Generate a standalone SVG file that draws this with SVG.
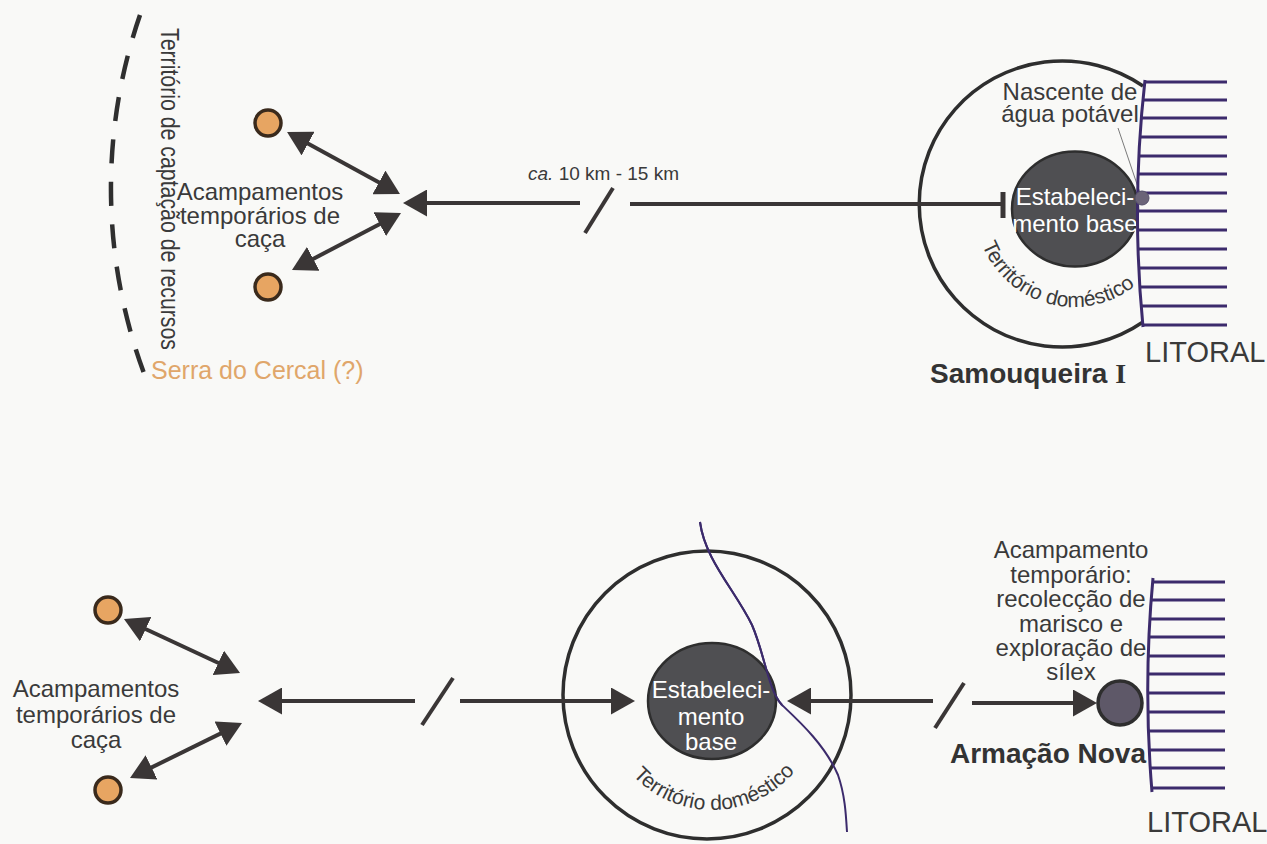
<svg xmlns="http://www.w3.org/2000/svg" width="1267" height="844" viewBox="0 0 1267 844">
<style>
.lbl{font-family:"Liberation Sans",Arial,sans-serif;font-size:24px;fill:#3a3a3a}
.c{text-anchor:middle}
.e{text-anchor:end}
.w{fill:#ffffff}
.b{font-weight:bold;font-size:28px;fill:#333333}
.arrow{stroke:#3a3636;stroke-width:4;fill:none}
.camp{fill:#e7a562;stroke:#3a2a1c;stroke-width:3.5}
.base{fill:#4f4f52;stroke:#2e2e2e;stroke-width:2.5}
.ring{fill:none;stroke:#2e2e2e;stroke-width:3.5}
.coast{fill:none;stroke:#3c2b6c;stroke-width:3}
</style>
<defs>
<marker id="ah" markerUnits="userSpaceOnUse" viewBox="0 0 24 27" markerWidth="24" markerHeight="27" refX="18" refY="13.5" orient="auto-start-reverse"><path d="M0,0 L24,13.5 L0,27 z" fill="#3a3636"/></marker>
<path id="arcTop" d="M982.2,245.1 A99,99 0 0 0 1167,241.9"/>
<path id="arcBot" d="M629.3,771.4 A108,108 0 0 0 813.5,738.9"/>
</defs>
<rect width="1267" height="844" fill="#f9f9f7"/>

<g id="catchment-boundary">
<path d="M140,15 A533,533 0 0 0 145,376" fill="none" stroke="#2f2f2f" stroke-width="4.5" stroke-dasharray="24 18.5"/>
<text class="lbl" style="font-size:25px" transform="translate(161,28) rotate(90)" textLength="322" lengthAdjust="spacingAndGlyphs">Território de captação de recursos</text>
<text x="151" y="379" class="lbl" style="font-size:25px;fill:#e0a66a">Serra do Cercal (?)</text>
</g>

<g id="camps-top">
<circle class="camp" cx="268" cy="123" r="13"/>
<circle class="camp" cx="268" cy="287" r="13"/>
<text class="lbl c" x="260" y="200">Acampamentos</text>
<text class="lbl c" x="260" y="223.5">temporários de</text>
<text class="lbl c" x="260" y="247">caça</text>
</g>

<g id="samouqueira">
<path class="ring" d="M1143,86 A143,143 0 1 0 1143,322"/>
<ellipse class="base" cx="1075" cy="209" rx="63" ry="57.5"/>
<text class="lbl c w" x="1075" y="205">Estabeleci-</text>
<text class="lbl c w" x="1075" y="232">mento base</text>
<text class="lbl" style="font-size:21px"><textPath href="#arcTop">Território doméstico</textPath></text>
<text class="lbl c" x="1070" y="100">Nascente de</text>
<text class="lbl c" x="1070" y="122">água potável</text>
<line x1="1118" y1="128" x2="1141" y2="196" stroke="#7a7a7a" stroke-width="1"/>
<text class="lbl b" x="930" y="383">Samouqueira <tspan font-family="'Liberation Serif',serif">I</tspan></text>
</g>

<g id="litoral-top">
<path class="coast" d="M1145,80 Q1131,204 1143,327"/>
<path class="coast" d="M1144,82H1227M1142,100H1227M1141,118H1227M1139,137H1227M1138,156H1227M1137,174H1227M1137,193H1227M1137,211H1227M1137,230H1227M1137,249H1227M1138,268H1227M1139,287H1227M1140,306H1227M1142,325H1227"/>
<circle cx="1142" cy="198" r="7" fill="#6b6478" stroke="#55506a" stroke-width="1"/>
<text class="lbl" x="1145" y="362" style="font-size:29px">LITORAL</text>
</g>

<g id="camps-bottom">
<circle class="camp" cx="108" cy="610" r="13"/>
<circle class="camp" cx="108" cy="790" r="13"/>
<text class="lbl c" x="96" y="697">Acampamentos</text>
<text class="lbl c" x="96" y="723">temporários de</text>
<text class="lbl c" x="96" y="748">caça</text>
</g>

<g id="armacao-base">
<circle class="ring" cx="707" cy="695" r="144"/>
<path d="M700,522 C705,560 735,590 752,625 C765,655 768,690 782,705 C800,722 825,745 838,775 C845,795 846,815 847,832" fill="none" stroke="#3c2b6c" stroke-width="2"/>
<ellipse class="base" cx="712" cy="701" rx="64" ry="58"/>
<path d="M700,522 C705,560 735,590 752,625 C765,655 768,690 782,705" fill="none" stroke="#3c2b6c" stroke-width="2"/>
<text class="lbl c w" x="711" y="698">Estabeleci-</text>
<text class="lbl c w" x="711" y="725">mento</text>
<text class="lbl c w" x="711" y="750">base</text>
<text class="lbl" style="font-size:21px"><textPath href="#arcBot" startOffset="5">Território doméstico</textPath></text>
</g>

<g id="armacao-camp">
<circle cx="1120" cy="703" r="22" fill="#5e5868" stroke="#2e2e2e" stroke-width="3.5"/>
<text class="lbl c" x="1071" y="558">Acampamento</text>
<text class="lbl c" x="1071" y="583">temporário:</text>
<text class="lbl c" x="1071" y="607">recolecção de</text>
<text class="lbl c" x="1071" y="632">marisco e</text>
<text class="lbl c" x="1071" y="656">exploração de</text>
<text class="lbl c" x="1071" y="680">sílex</text>
<text class="lbl b e" x="1146" y="763">Armação Nova</text>
</g>

<g id="litoral-bottom">
<path class="coast" d="M1153,578 Q1143,685 1152,792"/>
<path class="coast" d="M1152,582H1225M1151,600H1225M1150,619H1225M1149,637H1225M1148,656H1225M1148,674H1225M1147,693H1225M1148,712H1225M1148,731H1225M1149,750H1225M1150,768H1225M1151,788H1225"/>
<text class="lbl" x="1147" y="832" style="font-size:29px">LITORAL</text>
</g>

<g id="connectors">
<line class="arrow" x1="292.3" y1="134.9" x2="394.7" y2="191.1" marker-start="url(#ah)" marker-end="url(#ah)"/>
<line class="arrow" x1="395.7" y1="215.8" x2="297.3" y2="267.2" marker-start="url(#ah)" marker-end="url(#ah)"/>
<line class="arrow" x1="580" y1="203" x2="409" y2="203" marker-end="url(#ah)"/>
<line class="arrow" x1="585" y1="233" x2="613" y2="188"/>
<line class="arrow" x1="630" y1="204" x2="1003" y2="204"/>
<line x1="1003" y1="192" x2="1003" y2="218" stroke="#3a3636" stroke-width="5"/>
<text class="lbl" x="528" y="180" style="font-size:19px"><tspan font-style="italic">ca.</tspan> 10 km - 15 km</text>

<line class="arrow" x1="129.4" y1="621.5" x2="234.6" y2="670.5" marker-start="url(#ah)" marker-end="url(#ah)"/>
<line class="arrow" x1="236.6" y1="725.6" x2="135.4" y2="775.4" marker-start="url(#ah)" marker-end="url(#ah)"/>
<line class="arrow" x1="415" y1="701" x2="264" y2="701" marker-end="url(#ah)"/>
<line class="arrow" x1="422" y1="725" x2="453" y2="678"/>
<line class="arrow" x1="460" y1="701" x2="629" y2="701" marker-end="url(#ah)"/>
<line class="arrow" x1="933" y1="701" x2="793" y2="701" marker-end="url(#ah)"/>
<line class="arrow" x1="935" y1="728" x2="964" y2="683"/>
<line class="arrow" x1="972" y1="703" x2="1091" y2="703" marker-end="url(#ah)"/>
</g>
</svg>
